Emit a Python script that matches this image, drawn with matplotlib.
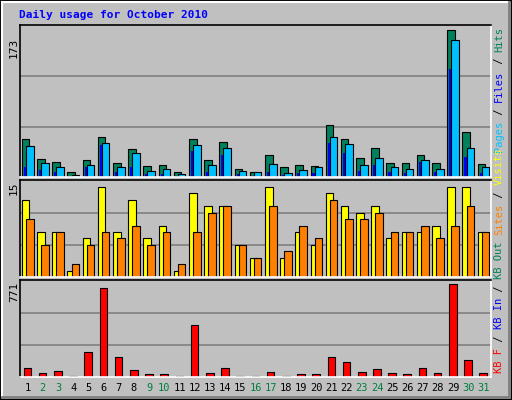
import matplotlib
matplotlib.use("Agg")
import matplotlib.pyplot as plt
from matplotlib.patches import Rectangle

days = list(range(1, 32))
hits = [44,21,17,6,19,46,16,32,13,14,6,43,19,40,9,6,25,11,14,13,59,44,22,33,16,16,25,16,168,51,15]
files = [35,16,11,2,14,39,11,27,7,9,3,37,14,33,7,6,15,5,8,11,46,38,14,22,11,9,20,9,157,33,11]
pages = [11,8,6,1,12,37,6,11,4,3,1,30,6,25,4,1,6,2,5,5,39,28,7,14,6,5,17,6,124,23,5]
visits = [12,7,7,1,6,14,7,12,6,8,1,13,11,11,5,3,14,3,7,5,13,11,10,11,6,7,7,8,14,14,7]
sites = [9,5,7,2,5,7,6,8,5,7,2,7,10,11,5,3,11,4,8,6,12,9,9,10,7,7,8,6,8,11,7]
kbf = [70,30,46,8,200,710,159,54,22,22,8,418,30,70,8,8,38,8,22,22,159,119,38,62,30,22,70,30,742,135,30]
weekend = {2,3,9,10,16,17,23,24,30,31}
ymax = [173, 15, 771]

W, H = 512, 400
fig = plt.figure(figsize=(W/100, H/100), dpi=100, facecolor="#c0c0c0")
mono = "DejaVu Sans Mono"

def ax_at(x0, y0, x1, y1):
    a = fig.add_axes([x0/W, 1-y1/H, (x1-x0)/W, (y1-y0)/H])
    a.set_facecolor("#c0c0c0")
    a.set_xlim(0, 31)
    a.set_xticks([]); a.set_yticks([])
    for s in a.spines.values():
        s.set_color("black"); s.set_linewidth(1.2)
    a.spines["bottom"].set_color("white"); a.spines["right"].set_color("white")
    return a

x0, x1 = 20, 491
axes = [ax_at(x0, 25, x1, 177), ax_at(x0, 180, x1, 277), ax_at(x0, 280, x1, 377)]
for a, m in zip(axes, ymax):
    a.set_ylim(0, m * 1.005)
    for k in range(1, 3):
        a.axhline(m * k / 3, color="#808080", lw=1.2, zorder=0)

ek = dict(edgecolor="black", linewidth=0.8)
a = axes[0]
l = [i + 0.12 for i in range(31)]
a.bar(l, hits, width=0.5, align="edge", color="#00805c", **ek)
a.bar([v + 0.13 for v in l], pages, width=0.17, align="edge", color="#0000ff", linewidth=0)
a.bar([v + 0.27 for v in l], files, width=0.5, align="edge", color="#00c0ff", **ek)
a = axes[1]
a.bar(l, visits, width=0.5, align="edge", color="#ffff00", **ek)
a.bar([v + 0.27 for v in l], sites, width=0.5, align="edge", color="#ff8000", **ek)
a = axes[2]
a.bar([v + 0.12 for v in l], kbf, width=0.5, align="edge", color="#ff0000", **ek)

fig.text(19/W, 1-15/H, "Daily usage for October 2010", color="#0000ff", fontsize=8,
         fontweight="bold", family=mono, va="center")
for y, t in [(48, "173"), (188, "15"), (292, "771")]:
    fig.text(14/W, 1-y/H, t, rotation=90, fontsize=8, family=mono, va="center", ha="center")

for i, d in enumerate(days):
    xc = x0 + (i + 0.5) * (x1 - x0) / 31
    fig.text(xc/W, 1-388/H, str(d), fontsize=7.5, family=mono, ha="center", va="center",
             color="#008040" if d in weekend else "black")

CH = 6.27
def vlabel(parts, ybot):
    y = ybot
    for txt, c in parts:
        fig.text(499/W, 1-y/H, txt, rotation=90, fontsize=7.5, family=mono, color=c,
                 ha="center", va="bottom")
        y -= len(txt) * CH

vlabel([("Pages", "#00c0ff"), (" / ", "black"), ("Files", "#0000ff"), (" / ", "black"), ("Hits", "#00805c")], 152)
vlabel([("KB F", "#ff0000"), (" / ", "black"), ("KB In", "#0000ff"), (" / ", "black"), ("KB Out", "#00805c"),
        (" ", "black"), ("Sites", "#ff8000"), (" / ", "black"), ("Visits", "#ffff00")], 373)

# 3D border
b = fig.add_axes([0, 0, 1, 1], facecolor="none"); b.set_axis_off()
b.set_xlim(0, W); b.set_ylim(H, 0)
b.add_patch(Rectangle((0.5, 0.5), W-1, H-1, fill=False, ec="black", lw=1.5))
b.plot([2, W-3], [2, 2], color="white", lw=1.5); b.plot([2, 2], [2, H-3], color="white", lw=1.5)
b.plot([W-3, W-3], [2, H-3], color="#808080", lw=2); b.plot([2, W-3], [H-3, H-3], color="#808080", lw=2)

fig.savefig("out.png", dpi=100, facecolor=fig.get_facecolor())
